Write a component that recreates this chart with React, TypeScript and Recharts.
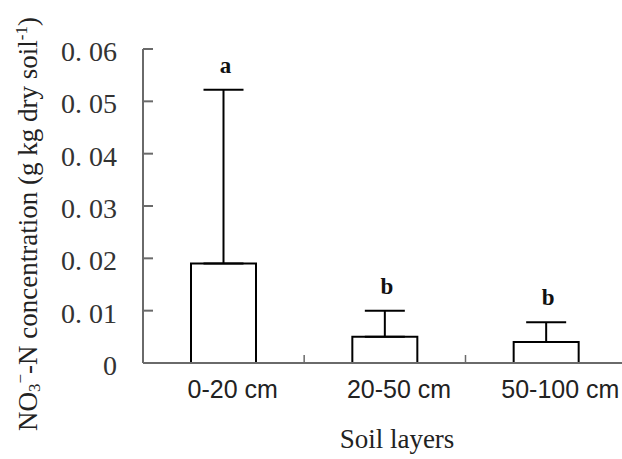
import React from 'react';
import { BarChart, Bar, XAxis, YAxis, ErrorBar, LabelList } from 'recharts';

const layers = ['0-20 cm', '20-50 cm', '50-100 cm'];
const means = [0.019, 0.005, 0.004];
const errors = [0.0332, 0.005, 0.0038];
const letters = ['a', 'b', 'b'];
const yTicks = [0, 0.01, 0.02, 0.03, 0.04, 0.05, 0.06];

const data = layers.map((layer, i) => ({
  layer,
  mean: means[i],
  err: [0, errors[i]],
  letter: letters[i],
}));

const AXIS = '#6a6a6a';
const TEXT = '#222';

const fmtY = (v: number) => (v === 0 ? '0' : v.toFixed(2).replace('.', '. '));

const YTick = (props: any) => {
  const { x, y, payload } = props;
  return (
    <g>
      {payload.value !== 0 && (
        <line x1={x} y1={y} x2={x + 10} y2={y} stroke={AXIS} strokeWidth={2} />
      )}
      <text
        x={x - 26}
        y={y + 12}
        textAnchor="end"
        fontFamily="Liberation Serif"
        fontSize={28}
        fill="#333"
      >
        {fmtY(payload.value)}
      </text>
    </g>
  );
};

const xShift = [9, 14, 14];

const XTick = (props: any) => {
  const { x, y, payload, index } = props;
  return (
    <g>
      <line x1={x + 80.5} y1={y} x2={x + 80.5} y2={y - 8} stroke={AXIS} strokeWidth={1.5} />
      <text
        x={x + (xShift[index] ?? 12)}
        y={y + 35}
        textAnchor="middle"
        fontFamily="Liberation Sans"
        fontSize={25}
        fill={TEXT}
      >
        {payload.value}
      </text>
    </g>
  );
};

const LetterLabel = (props: any) => {
  const { x, y, width, height, value, index } = props;
  const m = means[index];
  const e = errors[index];
  const pxPerUnit = height / m;
  const top = y + height - (m + e) * pxPerUnit;
  return (
    <text
      x={x + width / 2 + 2}
      y={top - 17}
      textAnchor="middle"
      fontFamily="Liberation Serif"
      fontWeight="bold"
      fontSize={23}
      fill="#111"
    >
      {value}
    </text>
  );
};

const YTitle = () => (
  <text
    x={37}
    y={224}
    transform="rotate(-90 37 224)"
    textAnchor="middle"
    fontFamily="Liberation Serif"
    fontSize={27}
    fill={TEXT}
  >
    NO
    <tspan fontSize={17} dy={3}>3</tspan>
    <tspan fontSize={17} dy={-14}>−</tspan>
    <tspan dy={11}>-N concentration (g kg dry soil</tspan>
    <tspan fontSize={17} dy={-10}>-1</tspan>
    <tspan dy={10}>)</tspan>
  </text>
);

const XTitle = () => (
  <text
    x={397}
    y={448}
    textAnchor="middle"
    fontFamily="Liberation Serif"
    fontSize={27}
    fill={TEXT}
  >
    Soil layers
  </text>
);

export default function App() {
  return (
    <div
      style={{
        position: 'absolute',
        left: 0,
        top: 0,
        width: 622,
        height: 459,
        overflow: 'hidden',
        background: '#fff',
      }}
    >
      <BarChart
        width={640}
        height={459}
        data={data}
        margin={{ top: 49, right: 13, bottom: 0, left: 0 }}
      >
        <XAxis
          dataKey="layer"
          height={96}
          axisLine={{ stroke: AXIS, strokeWidth: 2 }}
          tickLine={false}
          tickSize={0}
          tickMargin={0}
          tick={<XTick />}
          interval={0}
          label={{ content: () => <XTitle /> }}
        />
        <YAxis
          width={143}
          domain={[0, 0.06]}
          ticks={yTicks}
          axisLine={{ stroke: AXIS, strokeWidth: 2 }}
          tickLine={false}
          tickSize={0}
          tickMargin={0}
          tick={<YTick />}
          interval={0}
          label={{ content: () => <YTitle /> }}
        />
        <Bar
          dataKey="mean"
          barSize={65}
          fill="#fff"
          stroke="#000"
          strokeWidth={2}
          isAnimationActive={false}
        >
          <ErrorBar
            dataKey="err"
            direction="y"
            width={20}
            stroke="#000"
            strokeWidth={2}
            isAnimationActive={false}
          />
          <LabelList dataKey="letter" content={<LetterLabel />} />
        </Bar>
      </BarChart>
    </div>
  );
}
